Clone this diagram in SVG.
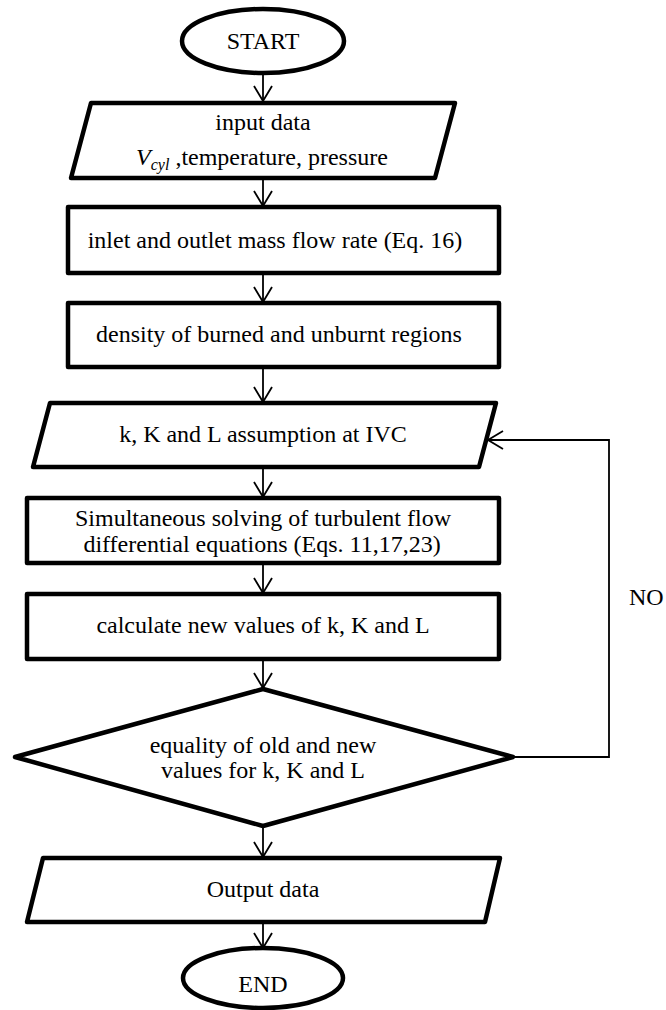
<svg xmlns="http://www.w3.org/2000/svg" width="666" height="1010" viewBox="0 0 666 1010">
  <style>
    .box { fill: #ffffff; stroke: #000000; stroke-width: 4.5; stroke-linejoin: round; }
    .conn { fill: none; stroke: #000000; stroke-width: 1.8; }
    .t { font-family: "Liberation Serif", "Times New Roman", serif; font-size: 24px; fill: #000000; text-anchor: middle; }
  </style>
  <defs>
    <marker id="arrow" markerUnits="userSpaceOnUse" markerWidth="20" markerHeight="20" refX="0" refY="0" orient="auto" overflow="visible">
      <path d="M-15,-9 L0,0 L-15,9" fill="none" stroke="#000000" stroke-width="1.8"/>
    </marker>
  </defs>
  <rect width="666" height="1010" fill="#ffffff"/>

  <g id="connectors">
    <line class="conn" x1="263" y1="73" x2="263" y2="101" marker-end="url(#arrow)"/>
    <line class="conn" x1="263" y1="178" x2="263" y2="206" marker-end="url(#arrow)"/>
    <line class="conn" x1="263" y1="273" x2="263" y2="302" marker-end="url(#arrow)"/>
    <line class="conn" x1="263" y1="367" x2="263" y2="402" marker-end="url(#arrow)"/>
    <line class="conn" x1="263" y1="467" x2="263" y2="497" marker-end="url(#arrow)"/>
    <line class="conn" x1="263" y1="563" x2="263" y2="593" marker-end="url(#arrow)"/>
    <line class="conn" x1="263" y1="659" x2="263" y2="688" marker-end="url(#arrow)"/>
    <line class="conn" x1="263" y1="826" x2="263" y2="857" marker-end="url(#arrow)"/>
    <line class="conn" x1="263" y1="922" x2="263" y2="948" marker-end="url(#arrow)"/>
    <polyline class="conn" points="513,757 609,757 609,440 488,440" marker-end="url(#arrow)"/>
    <text class="t" x="629" y="605" style="text-anchor:start">NO</text>
  </g>

  <g id="start">
    <ellipse class="box" cx="263" cy="41" rx="81" ry="32"/>
    <text class="t" x="263" y="49">START</text>
  </g>

  <g id="input">
    <polygon class="box" points="91,103 455,103 435,178 71,178"/>
    <text class="t" x="263" y="130">input data</text>
    <text class="t" x="262" y="165"><tspan font-style="italic">V</tspan><tspan font-style="italic" font-size="16" dy="5">cyl</tspan><tspan dy="-5"> ,temperature, pressure</tspan></text>
  </g>

  <g id="massflow">
    <rect class="box" x="68" y="207" width="431" height="66"/>
    <text class="t" x="275" y="248">inlet and outlet mass flow rate (Eq. 16)</text>
  </g>

  <g id="density">
    <rect class="box" x="68" y="303" width="431" height="64"/>
    <text class="t" x="279" y="342">density of burned and unburnt regions</text>
  </g>

  <g id="assumption">
    <polygon class="box" points="50,403 496,403 479,467 33,467"/>
    <text class="t" x="263" y="442">k, K and L assumption at IVC</text>
  </g>

  <g id="solving">
    <rect class="box" x="27" y="498" width="472" height="65"/>
    <text class="t" x="263" y="526">Simultaneous solving of turbulent flow</text>
    <text class="t" x="262" y="552">differential equations (Eqs. 11,17,23)</text>
  </g>

  <g id="calculate">
    <rect class="box" x="27" y="594" width="472" height="65"/>
    <text class="t" x="263" y="633">calculate new values of k, K and L</text>
  </g>

  <g id="decision">
    <polygon class="box" points="263,689 513,757 263,826 15,757"/>
    <text class="t" x="263" y="753">equality of old and new</text>
    <text class="t" x="263" y="778">values for k, K and L</text>
  </g>

  <g id="output">
    <polygon class="box" points="43,858 500,858 485,922 27,922"/>
    <text class="t" x="263" y="897">Output data</text>
  </g>

  <g id="end">
    <ellipse class="box" cx="263" cy="978" rx="80" ry="30"/>
    <text class="t" x="263" y="992">END</text>
  </g>
</svg>
